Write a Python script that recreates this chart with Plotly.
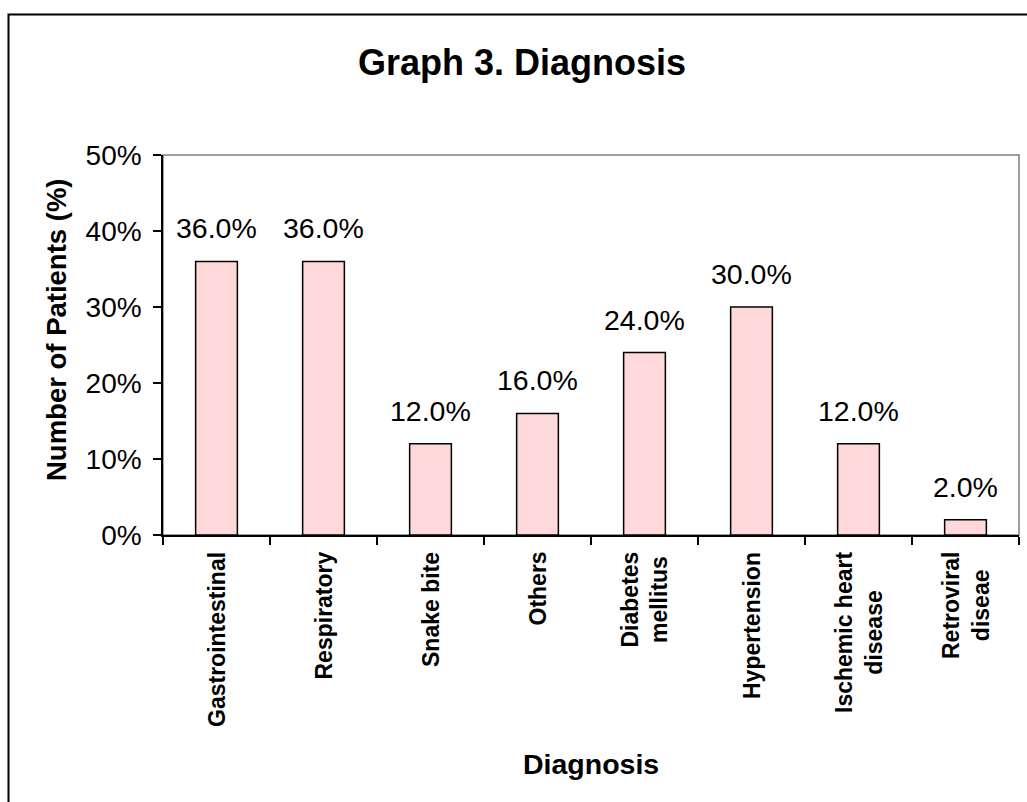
import plotly.graph_objects as go

# Diagnosis categories and share of patients
categories = [
    "Gastrointestinal",
    "Respiratory",
    "Snake bite",
    "Others",
    "Diabetes<br>mellitus",
    "Hypertension",
    "Ischemic heart<br>disease",
    "Retroviral<br>diseae",
]
patients_pct = [36.0, 36.0, 12.0, 16.0, 24.0, 30.0, 12.0, 2.0]
y_ticks = [0, 10, 20, 30, 40, 50]

FONT = "Liberation Sans, Arial, sans-serif"
W, H = 1027, 802
L, R, T, B = 163, 8, 155, 267
pw, ph = W - L - R, H - T - B

shares = [v / 100 for v in patients_pct]

fig = go.Figure(
    go.Bar(
        x=categories,
        y=shares,
        width=0.39,
        marker=dict(color="#FFD9D9", line=dict(color="black", width=1.5)),
        hoverinfo="skip",
    )
)

# value labels above the bars
for c, v in zip(categories, patients_pct):
    fig.add_annotation(
        x=c, y=v / 100, xref="x", yref="y",
        text=f"{v:.1f}%", showarrow=False,
        yanchor="bottom", yshift=15,
        font=dict(family=FONT, size=28.5, color="black"),
    )

# rotated category labels, lines centred on each other
for c in categories:
    fig.add_annotation(
        x=c, y=(H - B - 550) / ph, xref="x", yref="paper",
        text=f"<b>{c}</b>", textangle=-90, showarrow=False,
        xanchor="center", yanchor="top", align="center",
        font=dict(family=FONT, size=23, color="black"),
    )

# y axis title
fig.add_annotation(
    x=(56 - L) / pw, y=(H - B - 330) / ph, xref="paper", yref="paper",
    text="<b>Number of Patients (%)</b>", textangle=-90, showarrow=False,
    xanchor="center", yanchor="middle",
    font=dict(family=FONT, size=27.5, color="black"),
)

# x axis title
fig.add_annotation(
    x=0.5, y=(H - B - 764) / ph, xref="paper", yref="paper",
    text="<b>Diagnosis</b>", showarrow=False,
    xanchor="center", yanchor="middle",
    font=dict(family=FONT, size=28.5, color="black"),
)

# grey frame of the plot area
fig.add_shape(
    type="rect", xref="paper", yref="paper", x0=0, x1=1, y0=0, y1=1,
    line=dict(color="#808080", width=1.5), layer="below",
)
# outer chart border
fig.add_shape(
    type="rect", xref="paper", yref="paper",
    x0=(8.5 - L) / pw, x1=(W + 5 - L) / pw,
    y0=(H - B - (H + 5)) / ph, y1=(H - B - 14.5) / ph,
    line=dict(color="black", width=2), layer="below",
)

fig.update_layout(
    width=W, height=H,
    margin=dict(l=L, r=R, t=T, b=B),
    paper_bgcolor="white", plot_bgcolor="white",
    showlegend=False,
    title=dict(
        text="<b>Graph 3. Diagnosis</b>",
        x=522 / W, xanchor="center",
        y=1 - 62 / H, yanchor="middle",
        font=dict(family=FONT, size=36, color="black"),
    ),
    font=dict(family=FONT, color="black"),
)

fig.update_xaxes(
    type="category",
    showline=True, linecolor="black", linewidth=1.5,
    ticks="outside", tickson="boundaries", ticklen=8, tickwidth=1.5, tickcolor="black",
    showticklabels=False,
    showgrid=False, zeroline=False,
)

fig.update_yaxes(
    range=[0, 0.5],
    tickvals=[t / 100 for t in y_ticks],
    ticktext=[f"{t}%" for t in y_ticks],
    showline=True, linecolor="black", linewidth=1.5,
    ticks="outside", ticklen=8, tickwidth=1.5, tickcolor="black",
    tickfont=dict(family=FONT, size=28, color="black"),
    showgrid=False, zeroline=False,
    ticklabelstandoff=6,
)

fig.write_html("out.html")
